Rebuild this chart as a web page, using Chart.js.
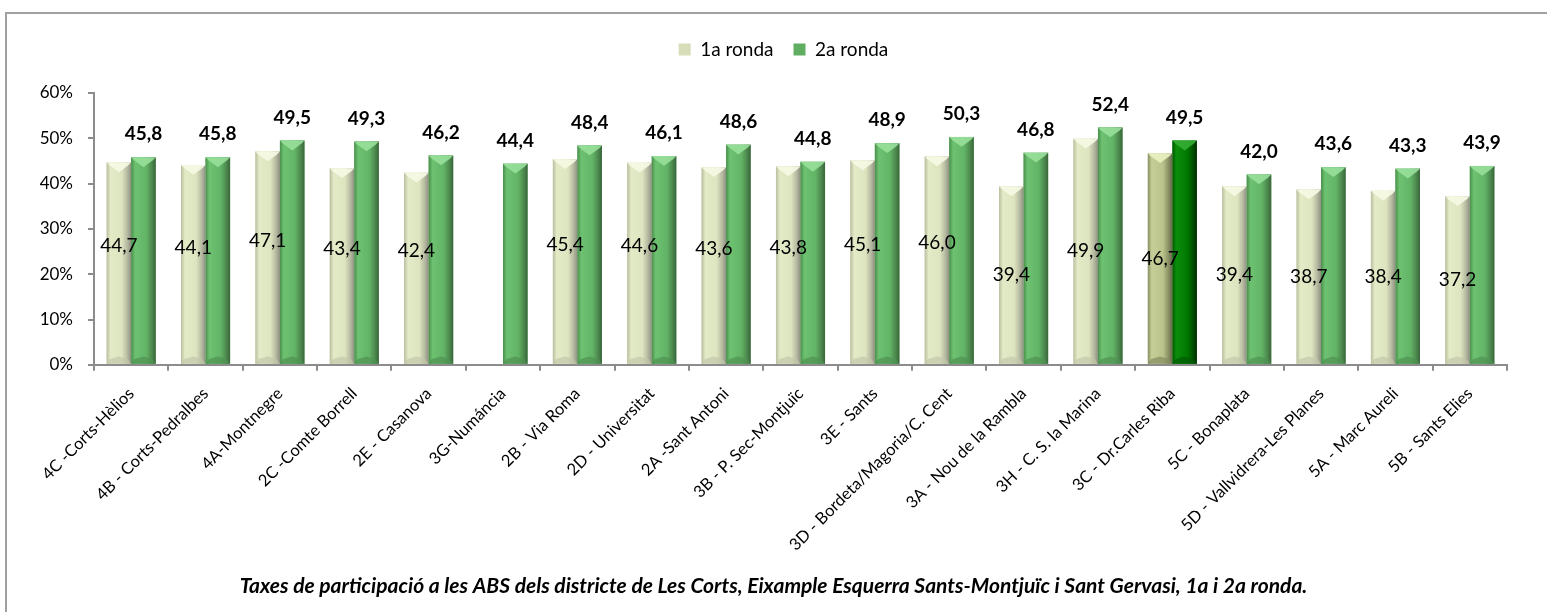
<!DOCTYPE html>
<html>
<head>
<meta charset="utf-8">
<script src="https://cdn.jsdelivr.net/npm/chart.js@4"></script>
<style>
  html, body { margin: 0; padding: 0; background: #fff; overflow: hidden; }
  #frame { position: absolute; left: 5px; top: 12px; width: 1600px; height: 700px;
           border-left: 2px solid #a0a0a0; border-top: 2px solid #a0a0a0; box-sizing: border-box; }
  #c { position: absolute; left: 0; top: 0; }
</style>
</head>
<body>
<div id="frame"></div>
<canvas id="c" width="1547" height="612"></canvas>
<script>
const categories = [
  "4C -Corts-Hèlios", "4B - Corts-Pedralbes", "4A-Montnegre", "2C -Comte Borrell",
  "2E - Casanova", "3G-Numáncia", "2B - Via Roma", "2D - Universitat", "2A -Sant Antoni",
  "3B - P. Sec-Montjuïc", "3E - Sants", "3D - Bordeta/Magoria/C. Cent", "3A - Nou de la Rambla",
  "3H - C. S. la Marina", "3C - Dr.Carles Riba", "5C - Bonaplata", "5D - Vallvidrera-Les Planes",
  "5A - Marc Aureli", "5B - Sants Elies"
];
const ronda1 = [44.7, 44.1, 47.1, 43.4, 42.4, null, 45.4, 44.6, 43.6, 43.8, 45.1, 46.0, 39.4, 49.9, 46.7, 39.4, 38.7, 38.4, 37.2];
const ronda2 = [45.8, 45.8, 49.5, 49.3, 46.2, 44.4, 48.4, 46.1, 48.6, 44.8, 48.9, 50.3, 46.8, 52.4, 49.5, 42.0, 43.6, 43.3, 43.9];
const seriesNames = ["1a ronda", "2a ronda"];
const yTicks = [0, 10, 20, 30, 40, 50, 60];
const highlightCategory = "3C - Dr.Carles Riba";
const caption = "Taxes de participació a les ABS dels districte de Les Corts, Eixample Esquerra Sants-Montjuïc i Sant Gervasi, 1a i 2a ronda.";

const FONT = "Lato, 'Open Sans', sans-serif";

const palettes = {
  0: { stops: ['#b9bea0', '#e3eac6', '#dde4c0', '#b6baa0', '#8e9082'], tri: '#f7fae4', bottom: '#c2c7aa', legend: '#d6ddb8' },
  1: { stops: ['#4a8f4c', '#6dc271', '#62b366', '#4d8a4e', '#3a653b'], tri: '#98e09b', bottom: '#4f9152', legend: '#5fae62' },
  h0: { stops: ['#878d60', '#c5ce97', '#bac38b', '#8b9165', '#66694c'], tri: '#eaf1c2', bottom: '#858a60', legend: '#b8c088' },
  h1: { stops: ['#005800', '#0b8d0b', '#007800', '#004f00', '#002a00'], tri: '#34ae34', bottom: '#035a03', legend: '#007000' }
};
function pal(di, i) {
  return categories[i] === highlightCategory ? palettes['h' + di] : palettes[di];
}

const bevelPlugin = {
  id: 'bevel',
  afterDatasetsDraw(chart) {
    const ctx = chart.ctx;
    chart.data.datasets.forEach((ds, di) => {
      chart.getDatasetMeta(di).data.forEach((bar, i) => {
        if (ds.data[i] == null) return;
        const p = pal(di, i);
        const w = bar.width, l = bar.x - w / 2, r = bar.x + w / 2;
        const top = bar.y, base = bar.base;
        ctx.save();
        const g = ctx.createLinearGradient(l, 0, r, 0);
        g.addColorStop(0, p.stops[0]);
        g.addColorStop(0.16, p.stops[1]);
        g.addColorStop(0.62, p.stops[2]);
        g.addColorStop(0.84, p.stops[3]);
        g.addColorStop(1, p.stops[4]);
        ctx.fillStyle = g;
        ctx.fillRect(l, top, w, base - top);
        ctx.fillStyle = p.tri;
        ctx.globalAlpha = 0.9;
        ctx.beginPath();
        ctx.moveTo(l, top);
        ctx.lineTo(r, top);
        ctx.lineTo(r - w * 0.12, top + w * 0.12);
        ctx.lineTo(bar.x, top + w * 0.4);
        ctx.lineTo(l + w * 0.12, top + w * 0.12);
        ctx.closePath();
        ctx.fill();
        ctx.globalAlpha = 0.7;
        ctx.fillStyle = p.bottom;
        ctx.beginPath();
        ctx.moveTo(l, base);
        ctx.lineTo(r, base);
        ctx.lineTo(r - w * 0.14, base - w * 0.2);
        ctx.lineTo(bar.x, base - w * 0.3);
        ctx.lineTo(l + w * 0.14, base - w * 0.2);
        ctx.closePath();
        ctx.fill();
        ctx.restore();
      });
    });
  }
};

const valueLabels = {
  id: 'valueLabels',
  afterDatasetsDraw(chart, args, opts) {
    const ctx = chart.ctx;
    ctx.save();
    ctx.textAlign = 'center';
    ctx.textBaseline = 'middle';
    ctx.fillStyle = '#000';
    chart.data.datasets.forEach((ds, di) => {
      chart.getDatasetMeta(di).data.forEach((bar, i) => {
        const v = ds.data[i];
        if (v == null) return;
        const txt = v.toFixed(1).replace('.', ',');
        let y;
        if (di === 0) {
          ctx.font = "19px " + FONT;
          y = (bar.y + bar.base) / 2 - (i < opts.liftCount ? opts.lift : 0);
        } else {
          ctx.font = "bold 19px " + FONT;
          y = bar.y - opts.above;
        }
        ctx.fillText(txt, bar.x, y);
      });
    });
    ctx.restore();
  }
};

const legendSpace = {
  id: 'legendSpace',
  beforeInit(chart) {
    const fit = chart.legend.fit;
    chart.legend.fit = function () {
      fit.call(this);
      this.height += 24;
    };
  },
  afterLayout(chart) {
    chart.legend.left += 30;
    chart.legend.right += 30;
    if (chart.titleBlock) {
      chart.titleBlock.left += 20;
      chart.titleBlock.right += 20;
    }
  }
};

new Chart(document.getElementById('c'), {
  type: 'bar',
  data: {
    labels: categories,
    datasets: [
      { label: seriesNames[0], data: ronda1, backgroundColor: palettes[0].legend, borderWidth: 0,
        categoryPercentage: 0.66, barPercentage: 1.0 },
      { label: seriesNames[1], data: ronda2, backgroundColor: palettes[1].legend, borderWidth: 0,
        categoryPercentage: 0.66, barPercentage: 1.0 }
    ]
  },
  options: {
    responsive: false,
    animation: false,
    devicePixelRatio: 1,
    layout: { padding: { left: 0, right: 40, top: 20, bottom: 14 } },
    plugins: {
      legend: {
        position: 'top',
        labels: {
          font: { family: FONT, size: 19 },
          color: '#000',
          boxWidth: 12, boxHeight: 12, padding: 20,
          generateLabels(chart) {
            return chart.data.datasets.map((ds, i) => ({
              text: ds.label, fillStyle: palettes[i].legend, strokeStyle: palettes[i].legend,
              lineWidth: 0, datasetIndex: i, fontColor: '#000'
            }));
          }
        }
      },
      title: {
        display: true, position: 'bottom', text: caption, color: '#000',
        font: { family: FONT, size: 21, weight: 'bold', style: 'italic', lineHeight: 1.15 },
        padding: { top: 0, bottom: 0 }
      },
      tooltip: { enabled: false },
      valueLabels: { lift: 17, liftCount: 12, above: 23 }
    },
    scales: {
      x: {
        afterFit(scale) { scale.height = 209; },
        grid: { display: true, drawOnChartArea: false, drawTicks: true, tickLength: 6, color: '#8c8c8c', lineWidth: 2, offset: true },
        border: { display: true, color: '#8c8c8c', width: 2 },
        ticks: { minRotation: 45, maxRotation: 45, autoSkip: false, color: '#000', padding: 13,
                 font: { family: FONT, size: 16.5 } }
      },
      y: {
        min: 0, max: 60,
        afterFit(scale) { scale.width = 94; },
        afterBuildTicks(scale) { scale.ticks = yTicks.map(v => ({ value: v })); },
        grid: { display: true, drawOnChartArea: false, drawTicks: true, tickLength: 6, color: '#8c8c8c', lineWidth: 2 },
        border: { display: true, color: '#8c8c8c', width: 2 },
        ticks: { color: '#000', padding: 15, font: { family: FONT, size: 17 },
                 callback: (v) => v + '%' }
      }
    }
  },
  plugins: [legendSpace, bevelPlugin, valueLabels]
});
</script>
</body>
</html>
